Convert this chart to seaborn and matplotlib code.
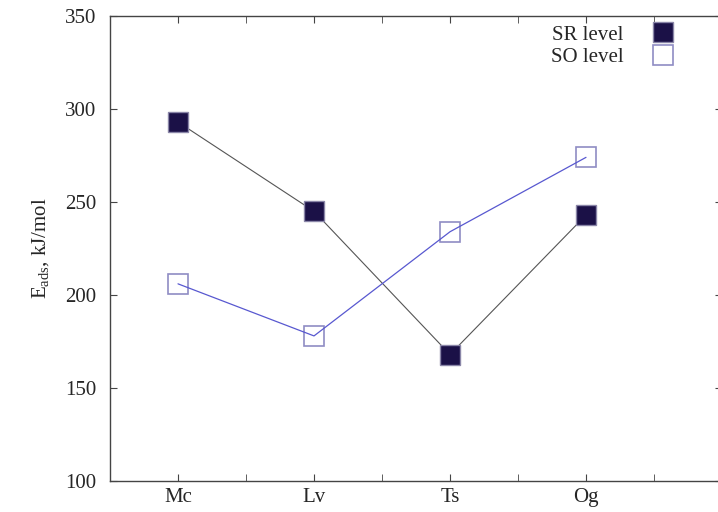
import pandas as pd
import matplotlib
matplotlib.use("Agg")
import matplotlib.pyplot as plt
import seaborn as sns

elements = ["Mc", "Lv", "Ts", "Og"]
positions = [1, 2, 3, 4]
sr_level = [293, 245, 168, 243]
so_level = [206, 178, 234, 274]

df = pd.DataFrame({"pos": positions, "element": elements,
                   "SR": sr_level, "SO": so_level})

sns.set_style("ticks")
plt.rcParams['font.family'] = ['Liberation Serif', 'DejaVu Serif']
plt.rcParams['mathtext.fontset'] = 'custom'
plt.rcParams['mathtext.rm'] = 'Liberation Serif'
plt.rcParams['mathtext.it'] = 'Liberation Serif:italic'

fig = plt.figure(figsize=(7.18, 5.12), dpi=100)
ax = fig.add_axes([110 / 718, 31 / 512, 612 / 718, 465 / 512])

# connecting lines
sns.lineplot(ax=ax, x=df.pos, y=df.SR, color="#555555", lw=0.8, zorder=1)
sns.lineplot(ax=ax, x=df.pos, y=df.SO, color="#5858d0", lw=0.9, zorder=3)

# markers
ax.plot(df.pos, df.SR, ls="none", marker="s", ms=14, mfc="#1b1147",
        mec="#8a86a8", mew=1.0, zorder=2, label="SR level")
ax.plot(df.pos, df.SO, ls="none", marker="s", ms=14, mfc="none",
        mec="#8f8cc4", mew=1.2, zorder=2, label="SO level")

ax.set_xlim(0.5, 5.0)
ax.set_ylim(100, 350)
ax.set_xticks(positions)
ax.set_xticklabels(elements)
ax.set_xticks([1.5, 2.5, 3.5, 4.5], minor=True)
ax.set_yticks([100, 150, 200, 250, 300, 350])
ax.tick_params(axis="both", which="both", direction="in", length=5,
               labelsize=15, color="#444444", top=True, right=True)
ax.tick_params(axis="x", which="major", pad=5)
ax.tick_params(axis="y", pad=10)
for s in ax.spines.values():
    s.set_color("#444444")
    s.set_linewidth(1.0)

ax.set_xlabel("")
ax.set_ylabel(r"E$_{\rm ads}$, kJ/mol", fontsize=15, labelpad=10)

ax.legend(loc="upper right", bbox_to_anchor=(0.962, 1.012), frameon=False,
          markerfirst=False, fontsize=15, handletextpad=0.9,
          labelspacing=0.15, borderaxespad=0.3)

plt.savefig("out.png", dpi=100)
